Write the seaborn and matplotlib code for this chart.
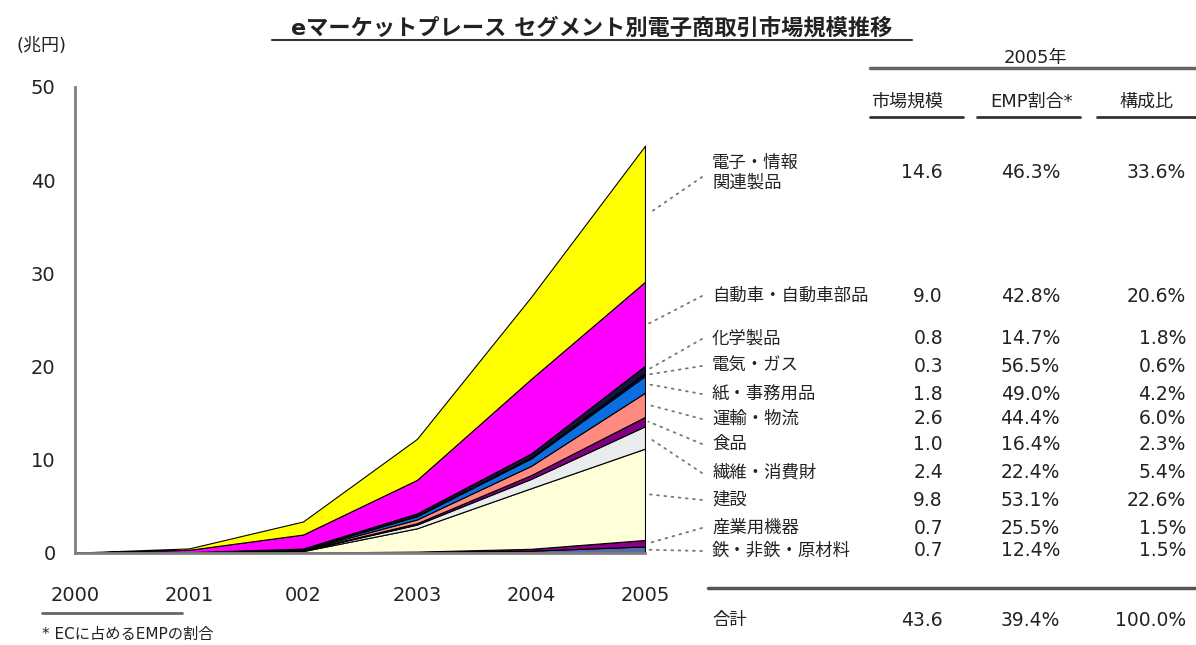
import numpy as np
import pandas as pd
import seaborn as sns
import matplotlib.pyplot as plt
from matplotlib.lines import Line2D

# data
years = [2000, 2001, 2002, 2003, 2004, 2005]
year_labels = ['2000', '2001', '002', '2003', '2004', '2005']

# segments listed from the bottom of the stack to the top
segments = ['鉄・非鉄・原材料', '産業用機器', '建設', '繊維・消費財', '食品', '運輸・物流',
            '紙・事務用品', '電気・ガス', '化学製品', '自動車・自動車部品', '電子・情報\n関連製品']
iron = [0.0, 0.01, 0.03, 0.10, 0.25, 0.7]
machinery = [0.0, 0.01, 0.02, 0.05, 0.20, 0.7]
construction = [0.0, 0.02, 0.15, 2.50, 6.50, 9.8]
textile = [0.0, 0.01, 0.05, 0.40, 1.00, 2.4]
food = [0.0, 0.01, 0.03, 0.15, 0.40, 1.0]
logistics = [0.0, 0.01, 0.05, 0.40, 1.00, 2.6]
paper = [0.0, 0.01, 0.07, 0.35, 0.80, 1.8]
power_gas = [0.0, 0.00, 0.02, 0.05, 0.12, 0.3]
chemical = [0.0, 0.01, 0.06, 0.25, 0.40, 0.8]
auto = [0.02, 0.25, 1.50, 3.60, 8.00, 9.0]
electronics = [0.02, 0.15, 1.40, 4.40, 8.80, 14.6]

market_2005 = [0.7, 0.7, 9.8, 2.4, 1.0, 2.6, 1.8, 0.3, 0.8, 9.0, 14.6]
emp_share = [12.4, 25.5, 53.1, 22.4, 16.4, 44.4, 49.0, 56.5, 14.7, 42.8, 46.3]
composition = [1.5, 1.5, 22.6, 5.4, 2.3, 6.0, 4.2, 0.6, 1.8, 20.6, 33.6]
total_market, total_emp, total_comp = 43.6, 39.4, 100.0

colors = ['#5a6aa8', '#8b008b', '#ffffd9', '#e8ecec', '#800080', '#ff8a80',
          '#0a6ee0', '#000066', '#14143c', '#ff00ff', '#ffff00']

series = [iron, machinery, construction, textile, food, logistics,
          paper, power_gas, chemical, auto, electronics]
df = pd.DataFrame(dict(zip(segments, series)), index=years)

sns.set_theme(style='white')
plt.rcParams['font.family'] = ['DejaVu Sans', 'Noto Sans CJK JP']

W, H = 1196, 645
def fx(px):
    return px / W
def fy(py):
    return 1 - py / H

fig = plt.figure(figsize=(W / 100, H / 100), dpi=100)
ax = fig.add_axes([fx(75), fy(553), fx(645) - fx(75), fy(87) - fy(553)])

ax.stackplot(df.index, *[df[c] for c in df.columns], colors=colors,
             edgecolor='black', linewidth=0.8)
ax.set_xlim(2000, 2005)
ax.set_ylim(0, 50)
ax.set_yticks(range(0, 51, 10))
ax.set_xticks(years)
ax.set_xticklabels(year_labels)
ax.tick_params(axis='x', length=0, pad=24, labelsize=14, colors='#222222')
ax.tick_params(axis='y', direction='in', length=5, width=2, pad=14,
               labelsize=14, colors='#222222')
for t in ax.yaxis.get_ticklines():
    t.set_color('#555555')
sns.despine(ax=ax)
for s in ['left', 'bottom']:
    ax.spines[s].set_color('#808080')
    ax.spines[s].set_linewidth(2)

# title and unit
fig.text(fx(592), fy(28), 'eマーケットプレース セグメント別電子商取引市場規模推移',
         ha='center', va='center', fontsize=16, fontweight='bold', color='#222222')
fig.add_artist(Line2D([fx(272), fx(912)], [fy(40), fy(40)], color='#333333', lw=1.5))
fig.text(fx(42), fy(46), '(兆円)', ha='center', va='center', fontsize=13, color='#222222')

# footnote under the x axis
fig.add_artist(Line2D([fx(42), fx(182)], [fy(613), fy(613)], color='#666666', lw=2))
fig.text(fx(42), fy(634), '* ECに占めるEMPの割合', ha='left', va='center', fontsize=11,
         color='#222222')

# table header
fig.text(fx(1035), fy(58), '2005年', ha='center', va='center', fontsize=13, color='#222222')
fig.add_artist(Line2D([fx(870), fx(1196)], [fy(68), fy(68)], color='#666666', lw=2.5))
headers = [('市場規模', 907, 870, 963), ('EMP割合*', 1032, 977, 1080), ('構成比', 1147, 1097, 1196)]
for txt, cx, x0, x1 in headers:
    fig.text(fx(cx), fy(102), txt, ha='center', va='center', fontsize=13, color='#222222')
    fig.add_artist(Line2D([fx(x0), fx(x1)], [fy(117), fy(117)], color='#333333', lw=2))

# table rows with leader lines
row_y = [551, 528, 500, 473, 444, 419, 394, 366, 339, 296, 173]
cum = np.cumsum(market_2005)
for i, seg in enumerate(segments):
    y = row_y[i]
    fig.text(fx(712), fy(y), seg, ha='left', va='center', fontsize=12.5,
             color='#222222', linespacing=1.1)
    fig.text(fx(943), fy(y), f'{market_2005[i]:.1f}', ha='right', va='center',
             fontsize=13.5, color='#222222')
    fig.text(fx(1060), fy(y), f'{emp_share[i]:.1f}%', ha='right', va='center',
             fontsize=13.5, color='#222222')
    fig.text(fx(1186), fy(y), f'{composition[i]:.1f}%', ha='right', va='center',
             fontsize=13.5, color='#222222')
    mid = cum[i] - market_2005[i] / 2
    ax.annotate('', xy=(2005.03, mid), xycoords='data',
                xytext=(fx(702), fy(y + 4 if i == len(segments) - 1 else y)),
                textcoords='figure fraction',
                arrowprops=dict(arrowstyle='-', linestyle=(0, (1, 3)), color='#777777',
                                lw=1.3, shrinkA=0, shrinkB=0),
                annotation_clip=False)

fig.add_artist(Line2D([fx(708), fx(1196)], [fy(588), fy(588)], color='#555555', lw=2.5))
fig.text(fx(712), fy(620), '合計', ha='left', va='center', fontsize=12.5, color='#222222')
fig.text(fx(943), fy(620), f'{total_market:.1f}', ha='right', va='center', fontsize=13.5,
         color='#222222')
fig.text(fx(1060), fy(620), f'{total_emp:.1f}%', ha='right', va='center', fontsize=13.5,
         color='#222222')
fig.text(fx(1186), fy(620), f'{total_comp:.1f}%', ha='right', va='center', fontsize=13.5,
         color='#222222')

fig.savefig('out.png', dpi=100)
